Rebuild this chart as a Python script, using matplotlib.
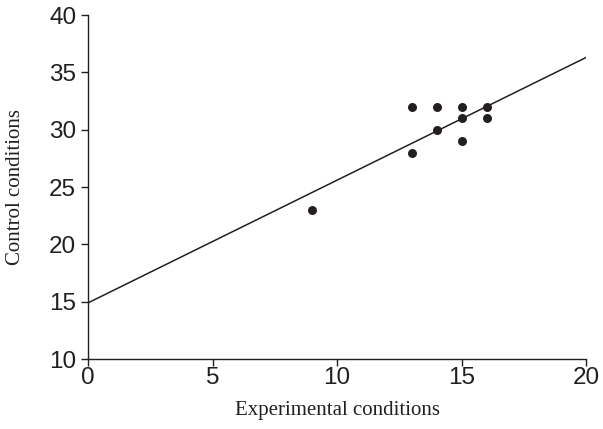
import matplotlib
matplotlib.use('Agg')
import matplotlib.pyplot as plt

# observed scores
experimental = [9, 13, 13, 14, 14, 15, 15, 15, 16, 16]
control = [23, 28, 32, 30, 32, 29, 31, 32, 31, 32]

# fitted line end points
line_x = [0, 20]
line_y = [14.9, 36.3]

x_ticks = [0, 5, 10, 15, 20]
y_ticks = [10, 15, 20, 25, 30, 35, 40]

ink = '#231f20'

fig = plt.figure(figsize=(6.03, 4.29), dpi=100)
ax = fig.add_axes([0.146, 0.163, 0.826, 0.802])

ax.plot(line_x, line_y, color=ink, lw=1.1, zorder=1)
ax.scatter(experimental, control, s=42, color=ink, zorder=2, linewidths=0)

ax.set_xlim(0, 20)
ax.set_ylim(10, 40)
ax.set_xticks(x_ticks)
ax.set_yticks(y_ticks)

for side in ['top', 'right']:
    ax.spines[side].set_visible(False)
for side in ['left', 'bottom']:
    ax.spines[side].set_color(ink)
    ax.spines[side].set_linewidth(1.0)

ax.tick_params(direction='out', length=5, width=1.0, color=ink,
               labelsize=17.5, labelcolor=ink)
ax.tick_params(axis='x', pad=0.5)
ax.tick_params(axis='y', pad=3.5)
for lab in ax.get_xticklabels() + ax.get_yticklabels():
    lab.set_family('Liberation Sans')

ax.set_xlabel('Experimental conditions', fontsize=15, family='Liberation Serif',
              color=ink, labelpad=9)
ax.set_ylabel('Control conditions', fontsize=15, family='Liberation Serif',
              color=ink, labelpad=17)

fig.savefig('out.png', dpi=100)
